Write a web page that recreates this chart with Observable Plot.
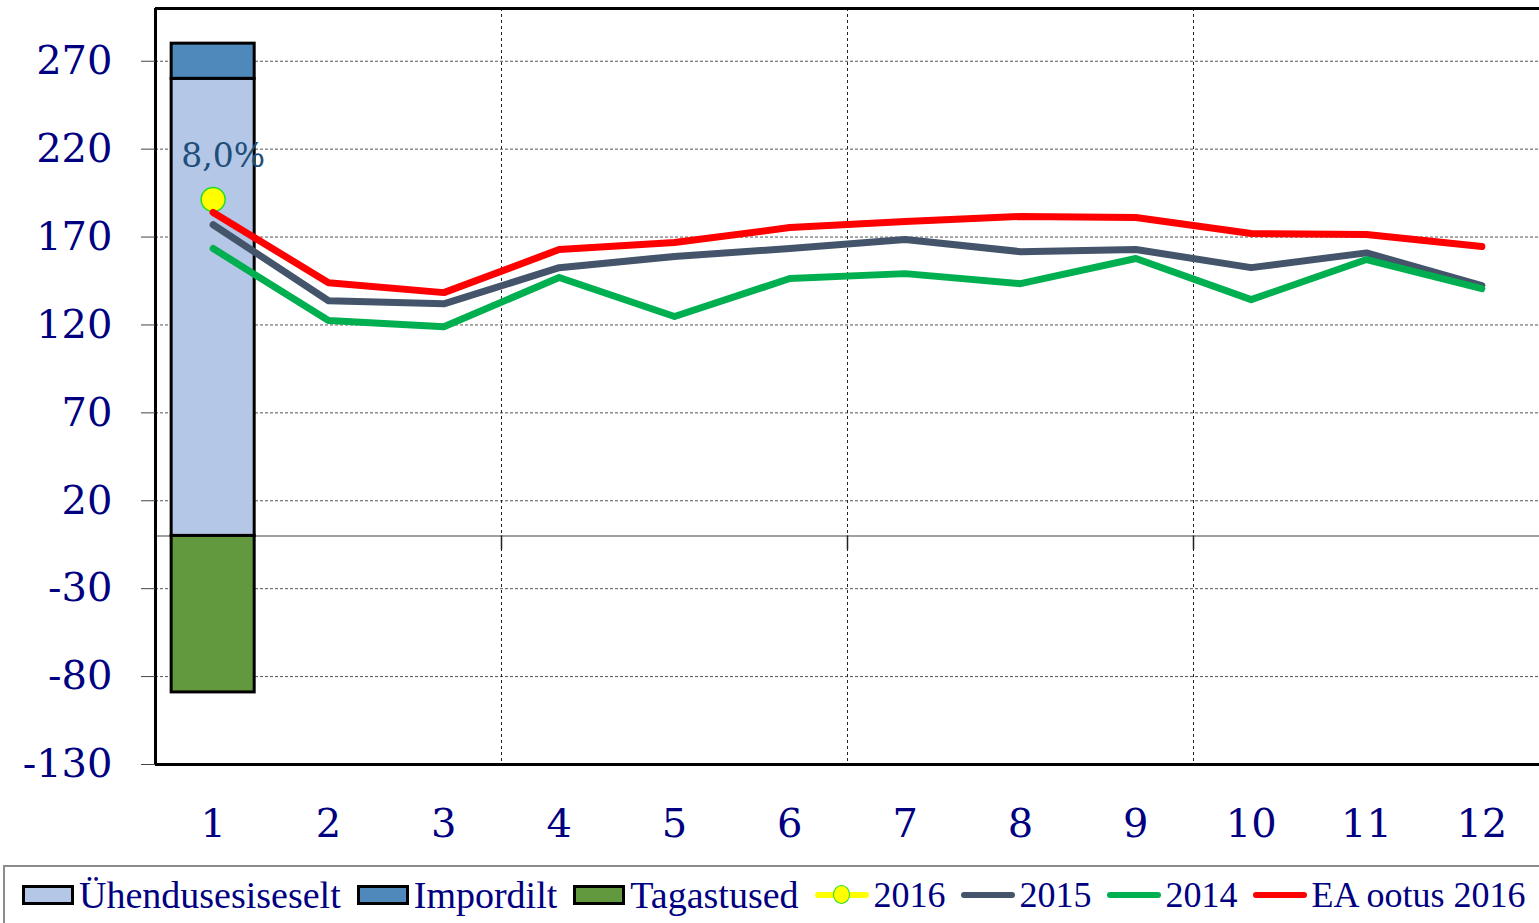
<!DOCTYPE html>
<html>
<head>
<meta charset="utf-8">
<script src="https://cdn.jsdelivr.net/npm/d3@7"></script>
<script src="https://cdn.jsdelivr.net/npm/@observablehq/plot@0.6"></script>
<style>
  html, body { margin: 0; padding: 0; background: white; overflow: hidden; }
  #chart svg { display: block; }
  #legend {
    position: absolute; left: 3px; top: 865px; width: 1545px; height: 58px;
    border-top: 2px solid #8c8c8c; border-left: 2px solid #8c8c8c;
    box-sizing: border-box; display: flex; align-items: center;
    font-family: "Liberation Serif", serif; font-size: 38px; color: #000080;
    padding-left: 17px; white-space: nowrap;
  }
  .item { display: flex; align-items: center; margin-right: 16px; }
  .item.line { margin-right: 15px; font-size: 36px; }
  .sw { width: 46px; height: 14px; border: 3px solid #000; margin-right: 5px; }
  .ln { width: 54px; height: 6px; border-radius: 3px; margin-right: 5px; position: relative; }
  .dotsw { position: absolute; left: 18px; top: -7px; width: 17px; height: 19px; border-radius: 50%; background: yellow; border: 1px solid #22dd22; box-sizing: border-box; }
</style>
</head>
<body>
<div id="chart"></div>
<div id="legend"></div>
<script>
const months = [1, 2, 3, 4, 5, 6, 7, 8, 9, 10, 11, 12];
const yTicks = [-130, -80, -30, 20, 70, 120, 170, 220, 270];

const barMonth = 1;
const barCategories = ["Ühendusesiseselt", "Impordilt", "Tagastused"];
const barValues = [260, 20, -89];
const barColors = ["#b4c7e7", "#4f88bb", "#62993e"];

const value2016 = 191.4;
const label2016 = "8,0%";
const series2015 = [177, 133.8, 132, 152.6, 159, 163.5, 168.6, 161.7, 162.9, 152.6, 161, 142.4];
const series2014 = [163.5, 122.5, 119, 147, 124.8, 146.4, 149.2, 143.5, 157.8, 134.4, 157.2, 140.7];
const seriesEA = [184, 144, 138.4, 162.9, 166.9, 175.4, 178.8, 181.7, 181.1, 172, 171.4, 164.6];

const lineNames = ["2016", "2015", "2014", "EA ootus 2016"];
const lineColors = ["#ffff00", "#44546a", "#00b050", "#ff0000"];

const bars = barCategories.map((c, i) => ({month: barMonth, category: c, value: barValues[i]}));
const toRows = s => months.map((m, i) => ({month: m, value: s[i]}));
const point = [{month: barMonth, value: value2016, label: label2016}];
const boundaries = months.filter(m => m % 3 === 0 && m < months.length).map(m => m + 0.5);

const chart = Plot.plot({
  width: 1539,
  height: 866,
  marginLeft: 155,
  marginRight: 0,
  marginTop: 8,
  marginBottom: 102,
  style: {fontFamily: "DejaVu Serif", fontSize: "40px", color: "#000080", background: "white"},
  x: {domain: [0.5, 12.5], label: null},
  y: {domain: [-130, 300], label: null},
  color: {domain: barCategories, range: barColors},
  marks: [
    Plot.gridY(yTicks, {stroke: "#555", strokeOpacity: 1, strokeDasharray: "3,2"}),
    Plot.ruleX(boundaries, {stroke: "#222", strokeDasharray: "3,3"}),
    Plot.ruleY([0], {stroke: "#808080", strokeWidth: 1.5}),
    Plot.ruleX(boundaries, {y1: 0, y2: -8, stroke: "#222", strokeWidth: 1.5}),
    Plot.rectY(bars, {x1: d => d.month - 0.36, x2: d => d.month + 0.36, y: "value", fill: "category", stroke: "black", strokeWidth: 3}),
    Plot.dot(point, {x: "month", y: "value", r: 12, fill: lineColors[0], stroke: "#22dd22", strokeWidth: 1.5}),
    Plot.line(toRows(series2015), {x: "month", y: "value", stroke: lineColors[1], strokeWidth: 7, strokeLinecap: "round", strokeLinejoin: "round"}),
    Plot.line(toRows(series2014), {x: "month", y: "value", stroke: lineColors[2], strokeWidth: 7, strokeLinecap: "round", strokeLinejoin: "round"}),
    Plot.line(toRows(seriesEA), {x: "month", y: "value", stroke: lineColors[3], strokeWidth: 7, strokeLinecap: "round", strokeLinejoin: "round"}),
    Plot.text(point, {x: "month", y: "value", text: "label", dx: 10, dy: -43, fill: "#1f4e79", fontSize: 33}),
    Plot.ruleX([0.5], {stroke: "black", strokeWidth: 3}),
    Plot.ruleY([-130, 300], {stroke: "black", strokeWidth: 3}),
    Plot.axisY(yTicks, {tickSize: 14, tickPadding: 29, stroke: "#444", fill: "#000080", fontSize: 40, label: null, tickFormat: d => String(d)}),
    Plot.axisX(months, {tickSize: 0, tickPadding: 44, fill: "#000080", fontSize: 40, label: null, tickFormat: d => String(d)})
  ]
});
document.getElementById("chart").appendChild(chart);

const legend = document.getElementById("legend");
barCategories.forEach((c, i) => {
  const it = document.createElement("div");
  it.className = "item";
  it.innerHTML = `<div class="sw" style="background:${barColors[i]}"></div><span>${c}</span>`;
  legend.appendChild(it);
});
lineNames.forEach((n, i) => {
  const it = document.createElement("div");
  it.className = "item line";
  const dot = i === 0 ? `<div class="dotsw"></div>` : "";
  it.innerHTML = `<div class="ln" style="background:${lineColors[i]}">${dot}</div><span>${n}</span>`;
  legend.appendChild(it);
});
</script>
</body>
</html>
